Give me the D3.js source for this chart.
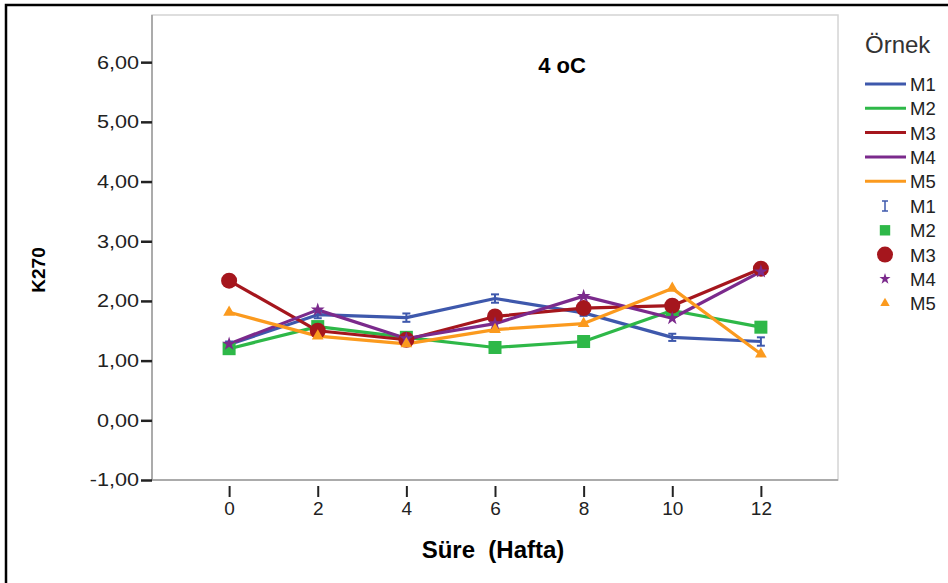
<!DOCTYPE html>
<html><head><meta charset="utf-8">
<script src="https://cdn.jsdelivr.net/npm/d3@7"></script>
<style>body{margin:0;background:#fff}svg{display:block}text{white-space:pre}</style>
</head><body><svg id="c" width="948" height="583"></svg>
<script>
const weeks = [0, 2, 4, 6, 8, 10, 12];
const M1 = [1.27, 1.77, 1.72, 2.04, 1.80, 1.39, 1.32];
const M1err = [0.05, 0.06, 0.07, 0.07, 0.05, 0.06, 0.07];
const M2 = [1.20, 1.57, 1.39, 1.22, 1.32, 1.84, 1.56];
const M3 = [2.34, 1.50, 1.35, 1.74, 1.88, 1.92, 2.54];
const M4 = [1.28, 1.85, 1.37, 1.62, 2.08, 1.71, 2.49];
const M5 = [1.81, 1.41, 1.28, 1.52, 1.62, 2.21, 1.11];
const seriesNames = ["M1", "M2", "M3", "M4", "M5"];
const colors = ["#3e58ac", "#2eb848", "#a5161d", "#7b2a8c", "#fb9a1e"];
const yTicks = [-1, 0, 1, 2, 3, 4, 5, 6];
const xTicks = [0, 2, 4, 6, 8, 10, 12];
const title = "4 oC";
const xTitle = "Süre  (Hafta)";
const yTitle = "K270";
const legendTitle = "Örnek";

const series = [M1, M2, M3, M4, M5];
const svg = d3.select("#c");
const L = 152, R = 838, T = 15, B = 480;
const x = d3.scaleLinear().domain([-1.74, 13.74]).range([L, R]);
const y = d3.scaleLinear().domain([-1, 6.79]).range([B, T]);
const font = "'Liberation Sans', Arial, sans-serif";

// outer border
svg.append("path").attr("d", "M6,583 V5 H948").attr("fill", "none").attr("stroke", "#000").attr("stroke-width", 2.5);

// plot frame
svg.append("rect").attr("x", L).attr("y", T).attr("width", R - L).attr("height", B - T)
  .attr("fill", "none").attr("stroke", "#d4d4d4").attr("stroke-width", 1.5);
svg.append("path").attr("d", `M${L},${T} V${B} H${R}`).attr("fill", "none").attr("stroke", "#9a9a9a").attr("stroke-width", 1.5);

// y axis
const yAxis = d3.axisLeft(y).tickValues(yTicks).tickSize(11).tickPadding(2)
  .tickFormat(d => d3.format(".2f")(d).replace(".", ",").replace("\u2212", "-"));
const gy = svg.append("g").attr("transform", `translate(${L},0)`).call(yAxis);
gy.select(".domain").remove();
gy.selectAll("line").attr("stroke", "#222").attr("stroke-width", 2.5);
gy.selectAll("text").attr("font-family", font).attr("font-size", 18.5).attr("fill", "#222")
  .attr("x", 0).attr("transform", "translate(-13,0) scale(1.17,1)");

// x axis
const xAxis = d3.axisBottom(x).tickValues(xTicks).tickSize(11).tickPadding(5);
const gx = svg.append("g").attr("transform", `translate(0,${B + 6})`).call(xAxis);
gx.select(".domain").remove();
gx.selectAll("line").attr("stroke", "#222").attr("stroke-width", 2);
gx.selectAll("text").attr("font-family", font).attr("font-size", 19).attr("fill", "#222");

// titles
svg.append("text").attr("x", 562).attr("y", 73).attr("text-anchor", "middle")
  .attr("font-family", font).attr("font-weight", "bold").attr("font-size", 22).text(title);
svg.append("text").attr("x", 493).attr("y", 558).attr("text-anchor", "middle")
  .attr("font-family", font).attr("font-weight", "bold").attr("font-size", 24).text(xTitle);
svg.append("text").attr("transform", "translate(45,270) rotate(-90)").attr("text-anchor", "middle")
  .attr("font-family", font).attr("font-weight", "bold").attr("font-size", 19).text(yTitle);

// lines
const line = d3.line().x((d, i) => x(weeks[i])).y(d => y(d));
series.forEach((s, k) => {
  svg.append("path").datum(s).attr("d", line).attr("fill", "none")
    .attr("stroke", colors[k]).attr("stroke-width", 3.2).attr("stroke-linejoin", "round");
});

// markers
function marker(g, k, cx, cy, scale) {
  const c = colors[k];
  if (k === 1) {
    const s = 13 * scale;
    g.append("rect").attr("x", cx - s / 2).attr("y", cy - s / 2).attr("width", s).attr("height", s).attr("fill", c);
  } else if (k === 2) {
    g.append("circle").attr("cx", cx).attr("cy", cy).attr("r", 8 * scale).attr("fill", c);
  } else if (k === 3) {
    g.append("path").attr("d", d3.symbol(d3.symbolStar, 60 * scale * scale)()).attr("transform", `translate(${cx},${cy})`).attr("fill", c);
  } else if (k === 4) {
    g.append("path").attr("d", d3.symbol(d3.symbolTriangle, 60 * scale * scale)()).attr("transform", `translate(${cx},${cy})`).attr("fill", c);
  }
}
// M1 error bars
const eb = svg.append("g").attr("stroke", colors[0]).attr("stroke-width", 2);
M1.forEach((v, i) => {
  const cx = x(weeks[i]), y0 = y(v - M1err[i]), y1 = y(v + M1err[i]);
  eb.append("line").attr("x1", cx).attr("x2", cx).attr("y1", y0).attr("y2", y1);
  eb.append("line").attr("x1", cx - 4).attr("x2", cx + 4).attr("y1", y0).attr("y2", y0);
  eb.append("line").attr("x1", cx - 4).attr("x2", cx + 4).attr("y1", y1).attr("y2", y1);
});
const mg = svg.append("g");
series.forEach((s, k) => s.forEach((v, i) => marker(mg, k, x(weeks[i]), y(v), 1)));

// legend
const lg = svg.append("g");
lg.append("text").attr("x", 865).attr("y", 53).attr("font-family", font).attr("font-size", 24).attr("fill", "#333").text(legendTitle);
seriesNames.forEach((n, k) => {
  const yy = 84 + k * 24.3;
  lg.append("line").attr("x1", 865).attr("x2", 906).attr("y1", yy).attr("y2", yy).attr("stroke", colors[k]).attr("stroke-width", 3);
  lg.append("text").attr("x", 910).attr("y", yy + 7).attr("font-family", font).attr("font-size", 18.5).attr("fill", "#222").text(n);
});
seriesNames.forEach((n, k) => {
  const yy = 206 + k * 24.3;
  const cx = 885;
  if (k === 0) {
    const g = lg.append("g").attr("stroke", colors[0]).attr("stroke-width", 1.5);
    g.append("line").attr("x1", cx).attr("x2", cx).attr("y1", yy - 5).attr("y2", yy + 5);
    g.append("line").attr("x1", cx - 3).attr("x2", cx + 3).attr("y1", yy - 5).attr("y2", yy - 5);
    g.append("line").attr("x1", cx - 3).attr("x2", cx + 3).attr("y1", yy + 5).attr("y2", yy + 5);
  } else {
    marker(lg, k, cx, yy, k === 2 ? 1 : 0.8);
  }
  lg.append("text").attr("x", 910).attr("y", yy + 7).attr("font-family", font).attr("font-size", 18.5).attr("fill", "#222").text(n);
});
</script></body></html>
